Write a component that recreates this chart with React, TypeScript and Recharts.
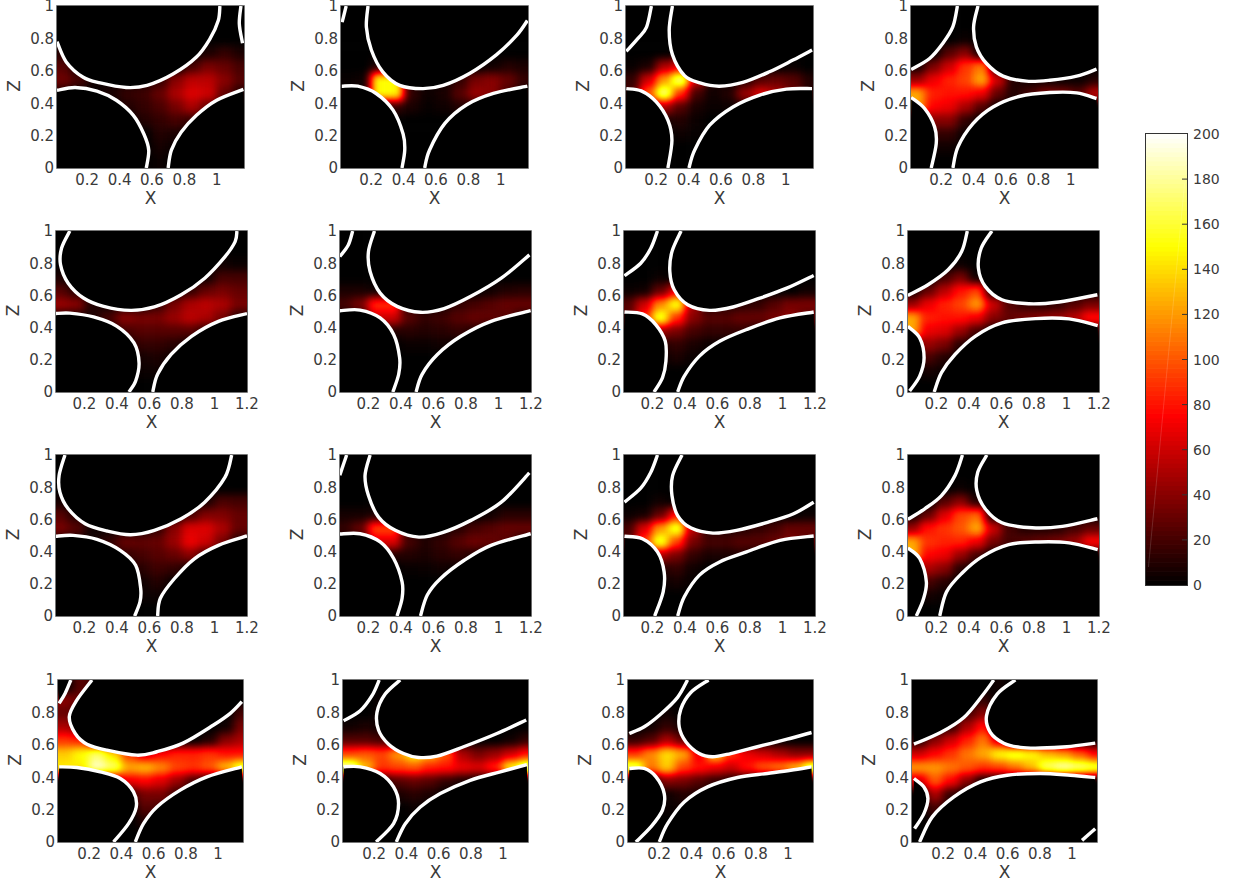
import React from "react";
import { ScatterChart, Scatter, XAxis, YAxis, ReferenceLine, ReferenceArea } from "recharts";

const FONT = "'DejaVu Sans', sans-serif";
const TEXT = "#3a3a3a";
const AXIS_W = 58;
const ROW_TOPS = [6, 231, 455, 680];
const ROW_HEIGHTS = [162, 161, 161, 162];
const ROW_WIDTHS = [187, 191, 191, 185];
const ROW_LEFTS = [
  [57, 341, 626, 911],
  [56, 340, 624, 908],
  [56, 340, 624, 908],
  [58, 343, 628, 912],
];

const heatXs = [0.05, 0.15, 0.25, 0.35, 0.45, 0.55, 0.65, 0.75, 0.85, 0.95, 1.05, 1.15];
const heatZs = [0.958, 0.875, 0.792, 0.708, 0.625, 0.542, 0.458, 0.375, 0.292, 0.208, 0.125, 0.042];
const zTicks = [0, 0.2, 0.4, 0.6, 0.8, 1];
const shortTicks = [0.2, 0.4, 0.6, 0.8, 1];
const longTicks = [0.2, 0.4, 0.6, 0.8, 1, 1.2];
const rowDomains = [[0.013, 1.169], [0.025, 1.2], [0.025, 1.2], [0.006, 1.155]];
const rowTicks = [shortTicks, longTicks, longTicks, shortTicks];
const channelPoint = [0.45, 0.44]; // inside the hot channel in every panel

const o = [0, 0, 0, 0, 0, 0, 0, 0, 0, 0, 0, 0];

const heatR1C1 = [o, o, o,
  [10,0,0,0,0,0,0,0,0,8,15,8],
  [25,5,0,0,0,0,0,0,20,35,30,20],
  [32,20,5,3,5,5,15,40,55,55,40,25],
  [8,4,3,8,15,18,30,50,65,60,30,10],
  [0,0,0,0,10,15,22,35,50,30,5,0],
  [0,0,0,0,0,10,15,20,15,3,0,0],
  [0,0,0,0,0,0,10,8,0,0,0,0],
  [0,0,0,0,0,0,6,2,0,0,0,0],
  [0,0,0,0,0,0,3,0,0,0,0,0]];
const heatR1C2 = [o, o, o, o,
  [0,0,10,8,0,0,0,0,0,5,10,8],
  [2,5,150,150,8,3,5,15,35,40,30,15],
  [2,5,150,150,15,4,8,25,45,40,20,5],
  [0,0,3,15,8,2,5,10,10,3,0,0],
  o, o, o, o];
const heatR1C3 = [o, o, o, o,
  [2,8,50,70,5,0,0,0,0,0,2,0],
  [15,60,120,175,60,8,3,10,25,30,25,10],
  [20,100,175,90,20,5,10,45,65,50,30,10],
  [0,25,50,25,8,3,4,10,8,2,0,0],
  [0,0,8,10,3,0,0,0,0,0,0,0],
  [0,0,0,4,2,0,0,0,0,0,0,0],
  o, o];
const heatR1C4 = [o, o,
  [0,0,0,3,0,0,0,0,0,0,0,0],
  [0,0,25,40,0,0,0,0,0,0,0,0],
  [5,35,60,90,110,5,0,0,0,0,0,0],
  [45,70,85,95,125,60,10,5,5,3,3,10],
  [125,85,80,80,70,30,10,20,35,35,25,55],
  [125,75,70,50,25,5,0,0,0,0,0,0],
  [0,40,40,15,0,0,0,0,0,0,0,0],
  [0,15,15,3,0,0,0,0,0,0,0,0],
  [0,5,5,0,0,0,0,0,0,0,0,0],
  o];
const heatR2C1 = [o, o,
  [0,0,0,0,0,0,0,0,0,0,5,3],
  [8,0,0,0,0,0,0,0,0,5,20,20],
  [25,12,0,0,0,0,0,0,15,30,35,30],
  [45,40,10,5,5,5,15,35,50,55,50,35],
  [5,5,8,20,40,35,35,45,55,50,35,10],
  [0,0,0,3,20,25,25,25,25,12,2,0],
  [0,0,0,0,3,15,15,12,3,0,0,0],
  [0,0,0,0,0,6,8,3,0,0,0,0],
  [0,0,0,0,0,3,4,0,0,0,0,0],
  o];
const heatR2C2 = [o, o, o, o,
  [8,8,5,0,0,0,0,0,0,5,10,12],
  [20,35,88,88,10,0,5,15,20,25,30,30],
  [0,5,60,60,25,15,18,25,30,28,25,10],
  [0,0,0,10,12,10,12,15,10,3,0,0],
  [0,0,0,0,3,3,5,3,0,0,0,0],
  o, o, o];
const heatR2C3 = [o, o, o,
  [0,0,3,0,0,0,0,0,0,0,0,0],
  [3,5,30,70,0,0,0,0,0,0,0,5],
  [25,60,115,155,50,8,8,12,15,25,35,35],
  [25,85,160,90,40,25,25,30,30,35,40,25],
  [0,15,45,35,20,15,15,15,8,3,0,0],
  [0,0,10,15,8,3,2,0,0,0,0,0],
  [0,0,3,8,3,0,0,0,0,0,0,0],
  o, o];
const heatR2C4 = [o, o,
  [0,0,0,3,0,0,0,0,0,0,0,0],
  [0,0,20,35,5,0,0,0,0,0,0,0],
  [5,30,55,80,95,3,0,0,0,0,0,0],
  [45,70,85,95,120,60,25,15,12,15,25,35],
  [125,85,80,80,70,40,30,35,40,45,55,80],
  [125,70,65,45,20,5,0,0,0,0,0,10],
  [20,45,35,12,0,0,0,0,0,0,0,0],
  [0,20,10,0,0,0,0,0,0,0,0,0],
  [0,6,3,0,0,0,0,0,0,0,0,0],
  o];
const heatR3C1 = [o, o, o,
  [6,0,0,0,0,0,0,0,0,8,22,20],
  [25,10,0,0,0,0,0,0,20,38,38,30],
  [35,25,5,3,3,5,15,40,65,65,50,30],
  [3,3,5,15,30,28,30,45,70,60,35,8],
  [0,0,0,2,15,20,25,30,40,18,2,0],
  [0,0,0,0,2,12,18,15,5,0,0,0],
  [0,0,0,0,0,5,10,3,0,0,0,0],
  [0,0,0,0,0,3,4,0,0,0,0,0],
  o];
const heatR3C2 = [o, o, o, o,
  [6,6,8,0,0,0,0,0,0,5,12,12],
  [15,30,95,95,10,0,5,12,20,25,30,30],
  [0,3,65,65,20,10,15,25,32,30,25,8],
  [0,0,0,10,10,8,12,15,10,3,0,0],
  [0,0,0,0,2,3,5,3,0,0,0,0],
  o, o, o];
const heatR3C3 = [o, o, o,
  [0,0,5,0,0,0,0,0,0,0,0,0],
  [3,6,30,80,0,0,0,0,0,0,0,3],
  [20,65,120,160,55,10,8,10,15,20,30,30],
  [25,90,160,95,35,20,20,25,25,30,35,25],
  [0,20,50,35,15,8,8,10,5,2,0,0],
  [0,0,10,15,5,0,0,0,0,0,0,0],
  [0,0,3,6,2,0,0,0,0,0,0,0],
  o, o];
const heatR3C4 = [o, o,
  [0,0,0,3,0,0,0,0,0,0,0,0],
  [0,0,25,40,10,0,0,0,0,0,0,0],
  [5,30,65,95,105,3,0,0,0,0,0,0],
  [45,80,90,100,125,60,20,10,10,12,20,30],
  [125,90,85,85,70,35,20,25,30,35,45,75],
  [130,75,70,45,20,3,0,0,0,0,0,5],
  [15,50,40,12,0,0,0,0,0,0,0,0],
  [0,20,12,0,0,0,0,0,0,0,0,0],
  [0,6,3,0,0,0,0,0,0,0,0,0],
  o];
const heatR4C1 = [
  [0,25,15,0,0,0,0,0,0,0,0,0],
  [40,30,0,0,0,0,0,0,0,0,0,0],
  [30,15,0,0,0,0,0,0,0,0,0,20],
  [50,30,0,0,0,0,0,0,0,0,5,35],
  [90,85,25,0,0,0,0,0,0,10,40,50],
  [135,150,170,140,90,60,75,85,85,90,80,80],
  [145,145,190,170,125,130,115,95,90,100,130,165],
  [0,0,0,40,70,75,65,45,20,5,0,0],
  [0,0,0,0,15,35,35,15,0,0,0,0],
  [0,0,0,0,0,25,20,0,0,0,0,0],
  [0,0,0,0,0,10,3,0,0,0,0,0],
  o];
const heatR4C2 = [o,
  [0,0,3,0,0,0,0,0,0,0,0,0],
  [0,0,5,0,0,0,0,0,0,0,0,0],
  [5,8,5,0,0,0,0,0,0,0,0,0],
  [25,25,20,10,0,0,0,0,0,0,5,15],
  [95,100,95,120,150,130,100,50,35,45,60,80],
  [190,130,90,95,100,85,80,70,65,85,150,185],
  [0,0,10,25,30,25,15,8,3,0,0,0],
  [0,0,0,8,12,8,0,0,0,0,0,0],
  [0,0,0,0,3,0,0,0,0,0,0,0],
  o, o];
const heatR4C3 = [o, o,
  [0,0,5,0,0,0,0,0,0,0,0,0],
  [0,5,15,5,0,0,0,0,0,0,0,0],
  [15,25,50,30,0,0,0,0,0,0,0,0],
  [90,115,140,125,70,140,90,70,60,50,40,40],
  [170,110,135,95,80,70,60,80,100,110,130,175],
  [0,5,40,35,25,15,8,5,0,0,0,0],
  [0,0,5,10,8,0,0,0,0,0,0,0],
  [0,0,3,5,0,0,0,0,0,0,0,0],
  o, o];
const heatR4C4 = [
  [0,0,0,0,0,5,0,0,0,0,0,0],
  [0,0,0,0,15,0,0,0,0,0,0,0],
  [0,0,0,20,40,0,0,0,0,0,0,0],
  [0,0,15,50,80,0,0,0,0,0,0,0],
  [10,40,60,85,110,60,0,0,0,0,0,0],
  [60,75,90,110,125,150,160,150,130,120,100,75],
  [120,120,110,100,90,95,110,130,170,185,175,165],
  [60,100,75,40,5,0,0,0,0,0,0,0],
  [0,50,15,0,0,0,0,0,0,0,0,0],
  [0,20,3,0,0,0,0,0,0,0,0,0],
  [0,5,0,0,0,0,0,0,0,0,0,0],
  o];

// white separatrices, [x, z] in order along each curve
const linesR1C1 = [
  [[0.013,0.78],[0.07,0.655],[0.175,0.56],[0.28,0.525],[0.44,0.497],[0.57,0.51],[0.73,0.58],[0.875,0.685],[0.96,0.8],[1.01,0.91],[1.02,1]],
  [[0.013,0.48],[0.125,0.497],[0.26,0.475],[0.38,0.418],[0.485,0.325],[0.55,0.21],[0.58,0.11],[0.565,0]],
  [[0.7,0],[0.72,0.11],[0.78,0.22],[0.875,0.325],[1,0.418],[1.165,0.485]],
  [[1.15,1],[1.14,0.89],[1.16,0.77]]];
const linesR1C2 = [
  [[0.045,1],[0.02,0.9]],
  [[0.18,1],[0.17,0.87],[0.2,0.73],[0.27,0.595],[0.376,0.51],[0.52,0.49],[0.645,0.51],[0.81,0.585],[0.975,0.7],[1.1,0.82],[1.165,0.91]],
  [[0.018,0.505],[0.117,0.505],[0.23,0.46],[0.335,0.357],[0.397,0.21],[0.407,0.11],[0.39,0]],
  [[0.53,0],[0.56,0.11],[0.655,0.275],[0.79,0.39],[0.955,0.46],[1.165,0.505]]];
const linesR1C3 = [
  [[0.17,1],[0.14,0.87],[0.087,0.8],[0.015,0.72]],
  [[0.3,1],[0.28,0.85],[0.3,0.7],[0.375,0.57],[0.47,0.525],[0.59,0.505],[0.735,0.528],[0.9,0.594],[1.045,0.666],[1.163,0.728]],
  [[0.015,0.49],[0.107,0.476],[0.2,0.408],[0.272,0.295],[0.297,0.171],[0.272,0]],
  [[0.402,0],[0.437,0.11],[0.53,0.264],[0.674,0.377],[0.84,0.45],[1.004,0.487],[1.163,0.49]]];
const linesR1C4 = [
  [[0.3,1],[0.272,0.872],[0.21,0.77],[0.128,0.676],[0.014,0.608]],
  [[0.427,1],[0.4,0.872],[0.417,0.748],[0.48,0.645],[0.582,0.567],[0.727,0.536],[0.871,0.542],[1.037,0.567],[1.16,0.61]],
  [[0.014,0.435],[0.097,0.367],[0.159,0.254],[0.169,0.15],[0.138,0]],
  [[0.272,0],[0.303,0.13],[0.396,0.274],[0.52,0.377],[0.686,0.443],[0.871,0.466],[1.037,0.464],[1.16,0.429]]];
const linesR2C1 = [
  [[0.11,1],[0.059,0.893],[0.053,0.79],[0.1,0.676],[0.194,0.584],[0.318,0.532],[0.484,0.507],[0.63,0.528],[0.795,0.604],[0.94,0.707],[1.065,0.841],[1.127,0.934],[1.138,1]],
  [[0.02,0.487],[0.11,0.49],[0.256,0.466],[0.4,0.408],[0.505,0.305],[0.536,0.181],[0.515,0.068],[0.474,0]],
  [[0.62,0],[0.65,0.11],[0.733,0.233],[0.858,0.346],[1.024,0.439],[1.2,0.487]]];
const linesR2C2 = [
  [[0.103,1],[0.076,0.913],[0.024,0.841]],
  [[0.237,1],[0.2,0.872],[0.21,0.748],[0.272,0.614],[0.376,0.532],[0.52,0.495],[0.665,0.518],[0.83,0.594],[1.017,0.707],[1.19,0.852]],
  [[0.024,0.505],[0.148,0.509],[0.272,0.46],[0.355,0.357],[0.392,0.212],[0.386,0.11],[0.35,0]],
  [[0.493,0],[0.53,0.11],[0.624,0.233],[0.768,0.346],[0.954,0.439],[1.198,0.505]]];
const linesR2C3 = [
  [[0.231,1],[0.19,0.893],[0.128,0.8],[0.028,0.722]],
  [[0.376,1],[0.32,0.872],[0.307,0.748],[0.334,0.635],[0.417,0.542],[0.551,0.507],[0.696,0.528],[0.861,0.583],[1.026,0.645],[1.192,0.724]],
  [[0.028,0.497],[0.138,0.485],[0.22,0.419],[0.279,0.315],[0.283,0.192],[0.262,0.089],[0.21,0]],
  [[0.355,0],[0.396,0.099],[0.489,0.223],[0.613,0.315],[0.779,0.388],[0.985,0.46],[1.192,0.497]]];
const linesR2C4 = [
  [[0.39,1],[0.355,0.872],[0.272,0.759],[0.148,0.666],[0.024,0.6]],
  [[0.541,1],[0.475,0.893],[0.458,0.769],[0.5,0.656],[0.603,0.573],[0.768,0.548],[0.954,0.559],[1.19,0.604]],
  [[0.024,0.408],[0.097,0.336],[0.124,0.212],[0.097,0.099],[0.035,0.006]],
  [[0.186,0],[0.231,0.12],[0.314,0.233],[0.438,0.346],[0.603,0.429],[0.81,0.456],[1.016,0.454],[1.192,0.412]]];
const linesR3C1 = [
  [[0.08,1],[0.044,0.872],[0.049,0.769],[0.1,0.666],[0.204,0.573],[0.339,0.528],[0.484,0.505],[0.63,0.532],[0.795,0.604],[0.94,0.707],[1.065,0.862],[1.106,1]],
  [[0.02,0.495],[0.13,0.501],[0.277,0.476],[0.42,0.408],[0.515,0.315],[0.546,0.171],[0.542,0.089],[0.509,0]],
  [[0.65,0],[0.667,0.11],[0.754,0.233],[0.878,0.357],[1.024,0.439],[1.2,0.497]]];
const linesR3C2 = [
  [[0.066,1],[0.024,0.875]],
  [[0.21,1],[0.179,0.872],[0.2,0.748],[0.262,0.614],[0.365,0.532],[0.51,0.49],[0.655,0.518],[0.83,0.594],[1.017,0.707],[1.19,0.889]],
  [[0.024,0.509],[0.148,0.511],[0.272,0.46],[0.355,0.357],[0.407,0.212],[0.407,0.11],[0.376,0]],
  [[0.52,0],[0.562,0.13],[0.644,0.233],[0.789,0.346],[0.954,0.439],[1.198,0.511]]];
const linesR3C3 = [
  [[0.231,1],[0.19,0.893],[0.128,0.794],[0.028,0.707]],
  [[0.382,1],[0.324,0.872],[0.32,0.748],[0.355,0.624],[0.438,0.546],[0.572,0.515],[0.717,0.532],[0.902,0.58],[1.068,0.635],[1.192,0.707]],
  [[0.028,0.495],[0.138,0.48],[0.231,0.398],[0.272,0.274],[0.266,0.15],[0.214,0]],
  [[0.355,0],[0.396,0.12],[0.489,0.254],[0.613,0.336],[0.779,0.398],[0.985,0.47],[1.192,0.497]]];
const linesR3C4 = [
  [[0.36,1],[0.314,0.872],[0.231,0.748],[0.128,0.666],[0.024,0.6]],
  [[0.51,1],[0.454,0.893],[0.448,0.78],[0.5,0.666],[0.603,0.579],[0.789,0.548],[0.975,0.557],[1.19,0.604]],
  [[0.024,0.422],[0.097,0.357],[0.138,0.212],[0.118,0.099],[0.076,0]],
  [[0.22,0],[0.262,0.15],[0.355,0.264],[0.479,0.367],[0.644,0.443],[0.83,0.46],[1.016,0.454],[1.192,0.412]]];
const linesR4C1 = [
  [[0.086,1],[0.05,0.917],[0.013,0.856]],
  [[0.217,1],[0.123,0.876],[0.076,0.773],[0.113,0.67],[0.186,0.604],[0.31,0.567],[0.496,0.536],[0.62,0.557],[0.786,0.612],[0.972,0.722],[1.076,0.794],[1.148,0.866]],
  [[0.013,0.464],[0.123,0.46],[0.268,0.433],[0.393,0.392],[0.475,0.309],[0.492,0.216],[0.444,0.113],[0.351,0]],
  [[0.486,0],[0.537,0.113],[0.62,0.216],[0.765,0.32],[0.931,0.402],[1.148,0.464]]];
const linesR4C2 = [
  [[0.231,1],[0.186,0.903],[0.113,0.81],[0.01,0.748]],
  [[0.361,1],[0.268,0.913],[0.217,0.8],[0.227,0.69],[0.289,0.604],[0.382,0.546],[0.475,0.522],[0.589,0.53],[0.755,0.588],[0.962,0.67],[1.144,0.753]],
  [[0.01,0.464],[0.113,0.464],[0.237,0.423],[0.32,0.34],[0.351,0.237],[0.32,0.113],[0.212,0]],
  [[0.337,0],[0.393,0.113],[0.486,0.216],[0.61,0.299],[0.796,0.381],[0.983,0.433],[1.148,0.478]]];
const linesR4C3 = [
  [[0.376,1],[0.314,0.893],[0.21,0.79],[0.107,0.711],[0.014,0.67]],
  [[0.506,1],[0.396,0.923],[0.334,0.82],[0.324,0.711],[0.365,0.619],[0.448,0.546],[0.53,0.526],[0.644,0.546],[0.81,0.588],[0.995,0.635],[1.146,0.676]],
  [[0.014,0.454],[0.107,0.454],[0.18,0.402],[0.231,0.299],[0.22,0.196],[0.148,0.093],[0.055,0]],
  [[0.2,0],[0.252,0.113],[0.355,0.247],[0.5,0.34],[0.686,0.398],[0.871,0.423],[1.016,0.443],[1.146,0.464]]];
const linesR4C4 = [
  [[0.514,1],[0.442,0.903],[0.328,0.769],[0.183,0.676],[0.018,0.604]],
  [[0.648,1],[0.535,0.913],[0.469,0.78],[0.493,0.676],[0.576,0.61],[0.679,0.584],[0.803,0.58],[0.969,0.588],[1.144,0.61]],
  [[0.018,0.392],[0.08,0.34],[0.105,0.268],[0.08,0.175],[0.022,0.082]],
  [[0.053,0],[0.132,0.155],[0.266,0.278],[0.431,0.371],[0.597,0.412],[0.803,0.423],[0.99,0.412],[1.144,0.398]],
  [[1.062,0.01],[1.144,0.082]]];

const heatGrid = [
  [heatR1C1, heatR1C2, heatR1C3, heatR1C4],
  [heatR2C1, heatR2C2, heatR2C3, heatR2C4],
  [heatR3C1, heatR3C2, heatR3C3, heatR3C4],
  [heatR4C1, heatR4C2, heatR4C3, heatR4C4],
];
const lineGrid = [
  [linesR1C1, linesR1C2, linesR1C3, linesR1C4],
  [linesR2C1, linesR2C2, linesR2C3, linesR2C4],
  [linesR3C1, linesR3C2, linesR3C3, linesR3C4],
  [linesR4C1, linesR4C2, linesR4C3, linesR4C4],
];

const barLevels = [1,3,5,7,9,11,13,15,17,19,21,23,25,27,29,31,33,35,37,39,41,43,45,47,49,51,53,55,57,59,61,63,65,67,69,71,73,75,77,79,81,83,85,87,89,91,93,95,97,99,101,103,105,107,109,111,113,115,117,119,121,123,125,127,129,131,133,135,137,139,141,143,145,147,149,151,153,155,157,159,161,163,165,167,169,171,173,175,177,179,181,183,185,187,189,191,193,195,197,199];
const barTicks = [0, 20, 40, 60, 80, 100, 120, 140, 160, 180, 200];

// matlab "hot" colormap
function hot(v: number) {
  const t = v / 200;
  const c = (a: number) => Math.round(255 * Math.max(0, Math.min(1, a)));
  return `rgb(${c(t / 0.375)},${c((t - 0.375) / 0.375)},${c((t - 0.75) / 0.25)})`;
}

function toCells(rows: number[][]) {
  const cells: { x: number; z: number; v: number }[] = [];
  rows.forEach((row, r) => row.forEach((v, c) => {
    cells.push({ x: heatXs[c], z: heatZs[r], v });
  }));
  return cells;
}

// cells are drawn as grey (value / 200); the #heatMap filter blurs them and maps grey to hot
function HeatCell(props: any) {
  const { cx, cy, payload } = props;
  const w = 16.8;
  const h = 14.2;
  // cells on the border overhang so the blur does not fade at the frame
  const l = payload.x < 0.1 ? 16 : 0;
  const r = payload.x > 1.1 ? 16 : 0;
  const t = payload.z > 0.9 ? 16 : 0;
  const b = payload.z < 0.1 ? 16 : 0;
  const g = Math.round((payload.v / 200) * 255);
  return <rect x={cx - w / 2 - l} y={cy - h / 2 - t} width={w + l + r} height={h + t + b} fill={`rgb(${g},${g},${g})`} />;
}

// Catmull-Rom through the first n points, straight after that (d3 curve shape, as recharts takes it)
function smoothCurve(n: number) {
  return (context: any) => {
    let pts: number[][] = [];
    return {
      areaStart() {},
      areaEnd() {},
      lineStart() { pts = []; },
      point(x: number, y: number) { pts.push([+x, +y]); },
      lineEnd() {
        if (!pts.length) return;
        const m = Math.min(n, pts.length);
        context.moveTo(pts[0][0], pts[0][1]);
        for (let i = 0; i < m - 1; i++) {
          const p0 = pts[i - 1] || pts[i];
          const p1 = pts[i];
          const p2 = pts[i + 1];
          const p3 = i + 2 < m ? pts[i + 2] : p2;
          context.bezierCurveTo(
            p1[0] + (p2[0] - p0[0]) / 6, p1[1] + (p2[1] - p0[1]) / 6,
            p2[0] - (p3[0] - p1[0]) / 6, p2[1] - (p3[1] - p1[1]) / 6,
            p2[0], p2[1]
          );
        }
        for (let i = m; i < pts.length; i++) context.lineTo(pts[i][0], pts[i][1]);
      },
    };
  };
}

// position along the frame: bottom 0-1, right 1-2, top 2-3, left 3-4
function framePos(p: number[], d: number[]) {
  const u = (p[0] - d[0]) / (d[1] - d[0]);
  const v = p[1];
  const dist = [v, 1 - u, 1 - v, u];
  const side = dist.indexOf(Math.min(...dist));
  return [u, 1 + v, 3 - u, 4 - v][side];
}

function walkFrame(from: number, to: number, d: number[]) {
  const corners = [[d[0], 0], [d[1], 0], [d[1], 1], [d[0], 1]];
  const end = to < from ? to + 4 : to;
  const out: number[][] = [];
  for (let s = Math.floor(from) + 1; s < end; s++) out.push(corners[s % 4]);
  return out;
}

function inside(poly: number[][], p: number[]) {
  let hit = false;
  for (let i = 0, j = poly.length - 1; i < poly.length; j = i++) {
    const a = poly[i];
    const b = poly[j];
    if ((a[1] > p[1]) !== (b[1] > p[1]) && p[0] < ((b[0] - a[0]) * (p[1] - a[1])) / (b[1] - a[1]) + a[0]) hit = !hit;
  }
  return hit;
}

// the curve closed round the frame on the side away from the channel; nothing burns out there
function outerRegion(pts: number[][], d: number[]) {
  const a = framePos(pts[0], d);
  const b = framePos(pts[pts.length - 1], d);
  const forward = [...pts, ...walkFrame(b, a, d)];
  return inside(forward, channelPoint) ? [...pts, ...walkFrame(a, b, d).reverse()] : forward;
}

const noDot = () => null;

function Panel({ row, col }: { row: number; col: number }) {
  const domain = rowDomains[row];
  const ticks = rowTicks[row];
  const plotW = ROW_WIDTHS[row];
  const plotH = ROW_HEIGHTS[row];
  const cells = toCells(heatGrid[row][col]);
  const curves = lineGrid[row][col];
  const tick = { fontSize: 15, fill: TEXT, fontFamily: FONT };
  const zLabel = () => (
    <text transform={`translate(${AXIS_W - 37},${12 + plotH / 2 - 1}) rotate(-90)`} textAnchor="middle" fontSize={17} fill={TEXT} fontFamily={FONT}>Z</text>
  );
  return (
    <div style={{ position: "absolute", left: ROW_LEFTS[row][col] - AXIS_W, top: ROW_TOPS[row] - 12 }}>
      <ScatterChart width={AXIS_W + plotW + 22} height={12 + plotH + 42} margin={{ top: 12, right: 22, bottom: 0, left: 0 }} style={{ overflow: "visible" }}>
        <XAxis type="number" dataKey="x" domain={domain} ticks={ticks} allowDataOverflow tickLine={false} axisLine={false} tickSize={0} tickMargin={6} height={42} tick={tick} interval={0}
          label={{ value: "X", position: "insideBottom", offset: 6, fontSize: 17, fill: TEXT, fontFamily: FONT }} />
        <YAxis type="number" dataKey="z" domain={[0, 1]} ticks={zTicks} allowDataOverflow tickLine={false} axisLine={false} tickSize={0} tickMargin={3} width={AXIS_W} tick={tick} interval={0}
          label={{ content: zLabel }} />
        <Scatter className="heat" data={cells} shape={HeatCell} isAnimationActive={false} />
        {curves.map((pts, i) => (
          <Scatter key={"m" + i} data={outerRegion(pts, domain).map(p => ({ x: p[0], z: p[1] }))} shape={noDot} line={{ stroke: "none", fill: "#000" }} lineJointType={smoothCurve(pts.length) as any} isAnimationActive={false} />
        ))}
        {ticks.map(t => <ReferenceLine key={"x" + t} x={t} stroke="#3c3c3c" strokeOpacity={0.4} />)}
        {zTicks.slice(1, 5).map(t => <ReferenceLine key={"z" + t} y={t} stroke="#3c3c3c" strokeOpacity={0.4} />)}
        {curves.map((pts, i) => (
          <Scatter key={i} data={pts.map(p => ({ x: p[0], z: p[1] }))} shape={noDot} line={{ stroke: "#fff", strokeWidth: 3.4 }} lineJointType={smoothCurve(pts.length) as any} isAnimationActive={false} />
        ))}
        <ReferenceArea x1={domain[0]} x2={domain[1]} y1={0} y2={1} fill="none" stroke="#4a4a4a" strokeWidth={1.5} ifOverflow="visible" />
      </ScatterChart>
    </div>
  );
}

function BarCell(props: any) {
  const { cy, payload } = props;
  return <rect x={10} y={cy - 2.6} width={41} height={5.2} fill={hot(payload.y)} />;
}

function BarTick(props: any) {
  const { y, payload } = props;
  return (
    <g>
      {payload.value > 0 && payload.value < 200 && <line x1={46} x2={51} y1={y} y2={y} stroke="#333" strokeWidth={1} />}
      <text x={57} y={y + 5} fontSize={14} fill={TEXT} fontFamily={FONT}>{payload.value}</text>
    </g>
  );
}

function ColorBar() {
  return (
    <div style={{ position: "absolute", left: 1136, top: 122 }}>
      <ScatterChart width={100} height={476} margin={{ top: 12, right: 0, bottom: 13, left: 10 }}>
        <XAxis type="number" dataKey="x" domain={[0, 1]} hide />
        <YAxis type="number" dataKey="y" domain={[0, 200]} ticks={barTicks} orientation="right" width={49} allowDataOverflow tick={BarTick} tickLine={false} axisLine={false} interval={0} />
        <Scatter data={barLevels.map(y => ({ x: 0.5, y }))} shape={BarCell} isAnimationActive={false} />
        <Scatter data={[{ x: 0.06, y: 8 }, { x: 0.94, y: 178 }]} shape={noDot} line={{ stroke: "#fff", strokeOpacity: 0.15, strokeWidth: 1 }} isAnimationActive={false} />
        <ReferenceArea x1={0} x2={1} y1={0} y2={200} fill="none" stroke="#333" strokeWidth={2} ifOverflow="visible" />
      </ScatterChart>
    </div>
  );
}

export default function App() {
  return (
    <div style={{ position: "absolute", left: 0, top: 0, width: 1241, height: 883, background: "#fff", overflow: "hidden" }}>
      <style>{`.heat { filter: url(#heatMap); }`}</style>
      <svg width={0} height={0} style={{ position: "absolute" }}>
        <defs>
          <filter id="heatMap" x="-15%" y="-15%" width="130%" height="130%" colorInterpolationFilters="sRGB">
            <feGaussianBlur stdDeviation={4.5} />
            <feComponentTransfer>
              <feFuncR type="table" tableValues="0 0.333 0.667 1 1 1 1 1 1" />
              <feFuncG type="table" tableValues="0 0 0 0 0.333 0.667 1 1 1" />
              <feFuncB type="table" tableValues="0 0 0 0 0 0 0 0.5 1" />
            </feComponentTransfer>
          </filter>
        </defs>
      </svg>
      {ROW_TOPS.map((_, r) => ROW_LEFTS[r].map((_, c) => <Panel key={r + "-" + c} row={r} col={c} />))}
      <ColorBar />
    </div>
  );
}
